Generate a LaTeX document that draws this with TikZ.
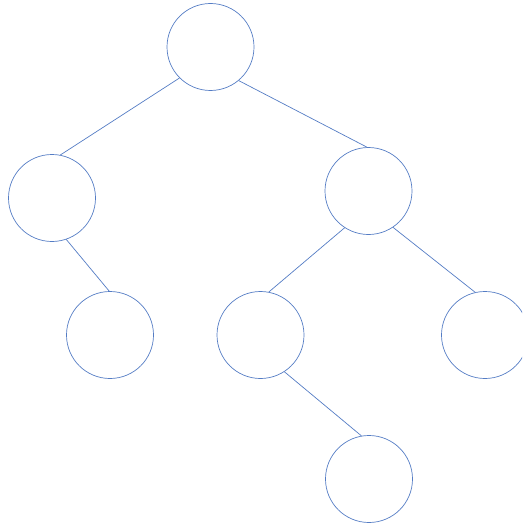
\documentclass[tikz,border=0pt]{standalone}
\definecolor{treeblue}{RGB}{84,124,196}
\begin{document}
\begin{tikzpicture}[x=1pt,y=-1pt,
  vertex/.style={circle,draw=treeblue,line width=0.7pt,minimum size=87pt,inner sep=0pt},
  edge/.style={draw=treeblue,line width=0.7pt}]
\clip (0,0) rectangle (522,527);
\useasboundingbox (0,0) rectangle (522,527);
\node[vertex] (r)  at (210.5,47) {};
\node[vertex] (a)  at (52,198) {};
\node[vertex] (b)  at (368.5,191) {};
\node[vertex] (a1) at (110,335) {};
\node[vertex] (b1) at (260.5,335) {};
\node[vertex] (b2) at (485,335) {};
\node[vertex] (c)  at (369,479) {};
\draw[edge] (r.225.5) -- (a.79.5);
\draw[edge] (r.-50.7) -- (b.92);
\draw[edge] (a.-71) -- (a1.91);
\draw[edge] (b.237.6) -- (b1.79);
\draw[edge] (b.-56.5) -- (b2.103);
\draw[edge] (b1.-57) -- (c.100);
\end{tikzpicture}
\end{document}
